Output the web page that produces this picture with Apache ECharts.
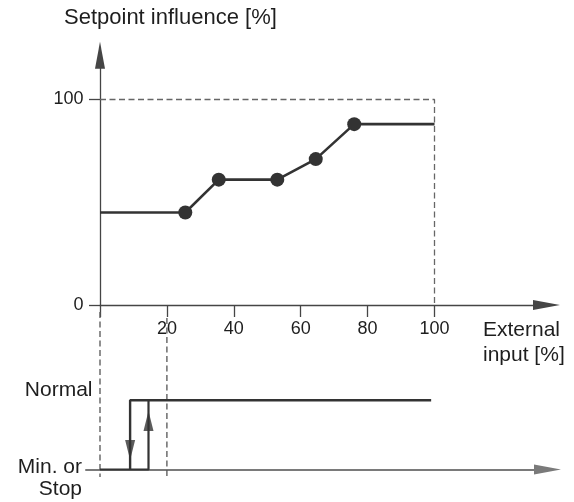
<!DOCTYPE html>
<html>
<head>
<meta charset="utf-8">
<script src="https://cdn.jsdelivr.net/npm/echarts@6/dist/echarts.min.js"></script>
<style>html,body{margin:0;padding:0;background:#fff}#c{width:574px;height:502px}</style>
</head>
<body>
<div id="c"></div>
<script>
// ---- data ----
const xTicks = [20, 40, 60, 80, 100];
const yTicks = [0, 100];
const curveX = [0, 25.5, 35.5, 53, 64.5, 76, 100];
const curveY = [45, 45, 61, 61, 71, 88, 88];
const limitBox = [[0, 100], [100, 100], [100, 0]];
const lowStateX = [0, 14.5, 14.5];
const lowStateY = [0, 0, 1];
const highStateX = [9, 9, 99];
const highStateY = [0, 1, 1];
const guideX = [0, 20];
const arrowDownX = 9;
const arrowUpX = 14.5;

// ---- layout (pixels) ----
const L = { x0: 100, x100: 434.5, y0: 305, y100: 99.5, tipX: 560, tipY: 41.7,
            lowLeft: 86, lowY0: 469.5, lowY1: 400.3, lowTip: 561, arrow: 27 };
const sx = (L.x100 - L.x0) / 100, sy = (L.y0 - L.y100) / 100;
const half = L.arrow / 2;
const upEndX = L.tipX - half, upTop = L.tipY + half;
const lowEndX = L.lowTip - half;
const lowH = L.lowY0 - L.lowY1;
const lowV = py => (L.lowY0 - py) / lowH;

const FONT = 'Liberation Sans, Arial, sans-serif';
const TXT = '#1e1e1e';
const AX = '#454545';

const curveData = curveX.map((x, i) => {
  const d = { value: [x, curveY[i]] };
  if (i === 0 || i === curveX.length - 1) d.symbol = 'none';
  return d;
});
const zip = (xs, ys) => xs.map((x, i) => [x, ys[i]]);
const guideStart = [lowV(312), lowV(318)];

const chart = echarts.init(document.getElementById('c'), null, { renderer: 'canvas' });
chart.setOption({
  animation: false,
  backgroundColor: '#fff',
  grid: [
    { left: L.x0, top: upTop, width: upEndX - L.x0, height: L.y0 - upTop, outerBoundsMode: 'none', containLabel: false },
    { left: L.lowLeft, top: L.lowY1, width: lowEndX - L.lowLeft, height: lowH, outerBoundsMode: 'none', containLabel: false }
  ],
  xAxis: [
    { type: 'value', gridIndex: 0, min: 0, max: (upEndX - L.x0) / sx,
      axisLine: { show: true, lineStyle: { color: AX, width: 1.3 }, symbol: ['none', 'triangle'], symbolSize: [10, L.arrow] },
      axisTick: { show: true, length: 12, lineStyle: { color: AX, width: 1.3 }, customValues: [0].concat(xTicks) },
      axisLabel: { show: true, margin: 15, customValues: xTicks, color: TXT, fontSize: 18, fontFamily: FONT },
      splitLine: { show: false } },
    { type: 'value', gridIndex: 1, min: (L.lowLeft - L.x0) / sx, max: (lowEndX - L.x0) / sx,
      axisLine: { show: true, onZero: false, lineStyle: { color: '#7a7a7a', width: 2 }, symbol: ['none', 'triangle'], symbolSize: [10, L.arrow] },
      axisTick: { show: false }, axisLabel: { show: false }, splitLine: { show: false } }
  ],
  yAxis: [
    { type: 'value', gridIndex: 0, min: 0, max: (L.y0 - upTop) / sy,
      axisLine: { show: true, lineStyle: { color: AX, width: 1.3 }, symbol: ['none', 'triangle'], symbolSize: [10, L.arrow] },
      axisTick: { show: true, length: 11, lineStyle: { color: AX, width: 1.3 }, customValues: yTicks },
      axisLabel: { show: true, margin: 16.5, customValues: yTicks, color: TXT, fontSize: 18, fontFamily: FONT },
      splitLine: { show: false } },
    { type: 'value', gridIndex: 1, min: 0, max: 1, show: false }
  ],
  graphic: [
    { type: 'text', x: 64, y: 17.5, style: { text: 'Setpoint influence [%]', fill: TXT, font: '22px ' + FONT, verticalAlign: 'middle' } },
    { type: 'text', x: 483, y: 330, style: { text: 'External', fill: TXT, font: '21px ' + FONT, verticalAlign: 'middle' } },
    { type: 'text', x: 483, y: 355.5, style: { text: 'input [%]', fill: TXT, font: '21px ' + FONT, verticalAlign: 'middle' } },
    { type: 'text', x: 92.5, y: 390.5, style: { text: 'Normal', fill: TXT, font: '21px ' + FONT, align: 'right', verticalAlign: 'middle' } },
    { type: 'text', x: 82, y: 467.5, style: { text: 'Min. or', fill: TXT, font: '21px ' + FONT, align: 'right', verticalAlign: 'middle' } },
    { type: 'text', x: 82, y: 489.5, style: { text: 'Stop', fill: TXT, font: '21px ' + FONT, align: 'right', verticalAlign: 'middle' } }
  ],
  series: [
    { type: 'line', xAxisIndex: 0, yAxisIndex: 0, data: limitBox, symbol: 'none', silent: true,
      lineStyle: { color: '#666', width: 1.3, type: [6, 3.5] }, z: 1 },
    { type: 'line', xAxisIndex: 0, yAxisIndex: 0, data: curveData, symbol: 'circle', symbolSize: 14,
      showSymbol: true, itemStyle: { color: '#333' }, lineStyle: { color: '#333', width: 2.6 }, z: 3 },
    ...guideX.map((gx, i) => ({ type: 'line', xAxisIndex: 1, yAxisIndex: 1, clip: false, symbol: 'none', silent: true,
      data: [[gx, guideStart[i]], [gx, lowV(477)]], lineStyle: { color: '#555', width: 1.3, type: [6, 3.5] }, z: 1 })),
    { type: 'line', xAxisIndex: 1, yAxisIndex: 1, data: zip(lowStateX, lowStateY), symbol: 'none', clip: false,
      lineStyle: { color: '#333', width: 2.2 }, z: 4 },
    { type: 'line', xAxisIndex: 1, yAxisIndex: 1, data: zip(highStateX, highStateY), symbol: 'none', clip: false,
      lineStyle: { color: '#333', width: 2.4 }, z: 4 },
    { type: 'scatter', xAxisIndex: 1, yAxisIndex: 1, clip: false, symbol: 'triangle', symbolSize: [10, 20],
      itemStyle: { color: '#333' }, z: 5,
      data: [
        { value: [arrowDownX, lowV(450)], symbolRotate: 180 },
        { value: [arrowUpX, lowV(421)], symbolRotate: 0 }
      ] }
  ]
});
</script>
</body>
</html>
